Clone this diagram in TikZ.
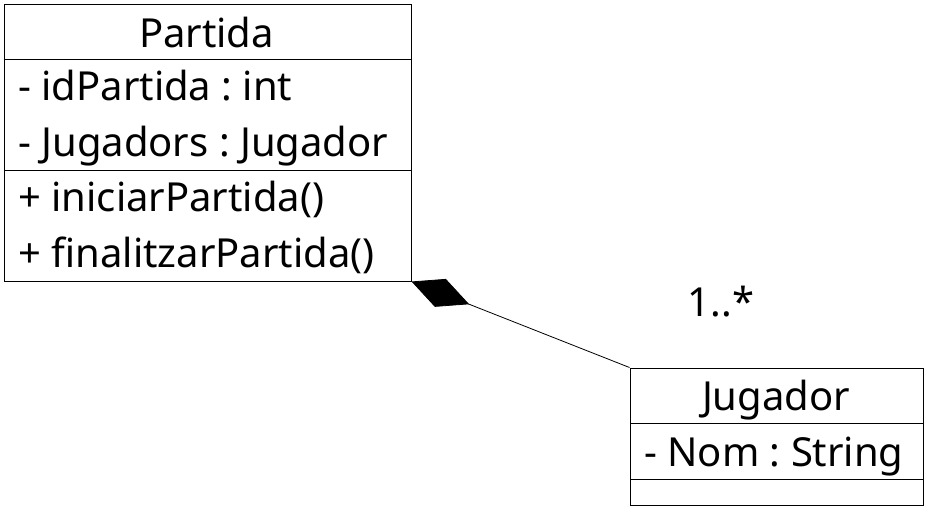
\documentclass[tikz,border=0pt]{standalone}
\usepackage{fontspec}
\setmainfont{Noto Sans}
\usetikzlibrary{arrows.meta}
\frenchspacing
\tikzset{
  comp/.style={draw, line width=1pt, inner sep=0pt, anchor=north west},
  txt/.style={inner sep=0pt, anchor=base west, font=\fontsize{40}{48}\selectfont},
  ttl/.style={inner sep=0pt, anchor=base, font=\fontsize{40}{48}\selectfont},
  compo/.style={line width=0.8pt, {Diamond[length=62pt,width=30pt,fill=black]}-}
}
\begin{document}
\frenchspacing
\begin{tikzpicture}[x=1pt,y=-1pt]
\useasboundingbox (0,0) rectangle (931,509);
% Partida
\node[comp, minimum width=407pt, minimum height=55pt] (pt) at (3.5,3.5) {};
\node[comp, minimum width=407pt, minimum height=111pt] (pa) at (3.5,58.5) {};
\node[comp, minimum width=407pt, minimum height=111pt] (pm) at (3.5,169.5) {};
\node[ttl] (ptt) at (206.5,47) {Partida};
\node[txt] (pa1) at (18,100) {- idPartida : int};
\node[txt] (pa2) at (18,156) {- Jugadors : Jugador};
\node[txt] (pm1) at (18,211) {+ iniciarPartida()};
\node[txt] (pm2) at (18,267) {+ finalitzarPartida()};
% Jugador
\node[comp, minimum width=293pt, minimum height=55pt] (jt) at (629.5,367.5) {};
\node[comp, minimum width=293pt, minimum height=56pt] (ja) at (629.5,422.5) {};
\node[comp, minimum width=293pt, minimum height=26pt] (jm) at (629.5,478.5) {};
\node[ttl] (jtt) at (776,410) {Jugador};
\node[txt] (ja1) at (644,466) {- Nom : String};
% composition
\draw[compo] (pm.south east) -- (jt.north west);
\node[ttl] (mult) at (721,316) {1..*};
\end{tikzpicture}
\end{document}
